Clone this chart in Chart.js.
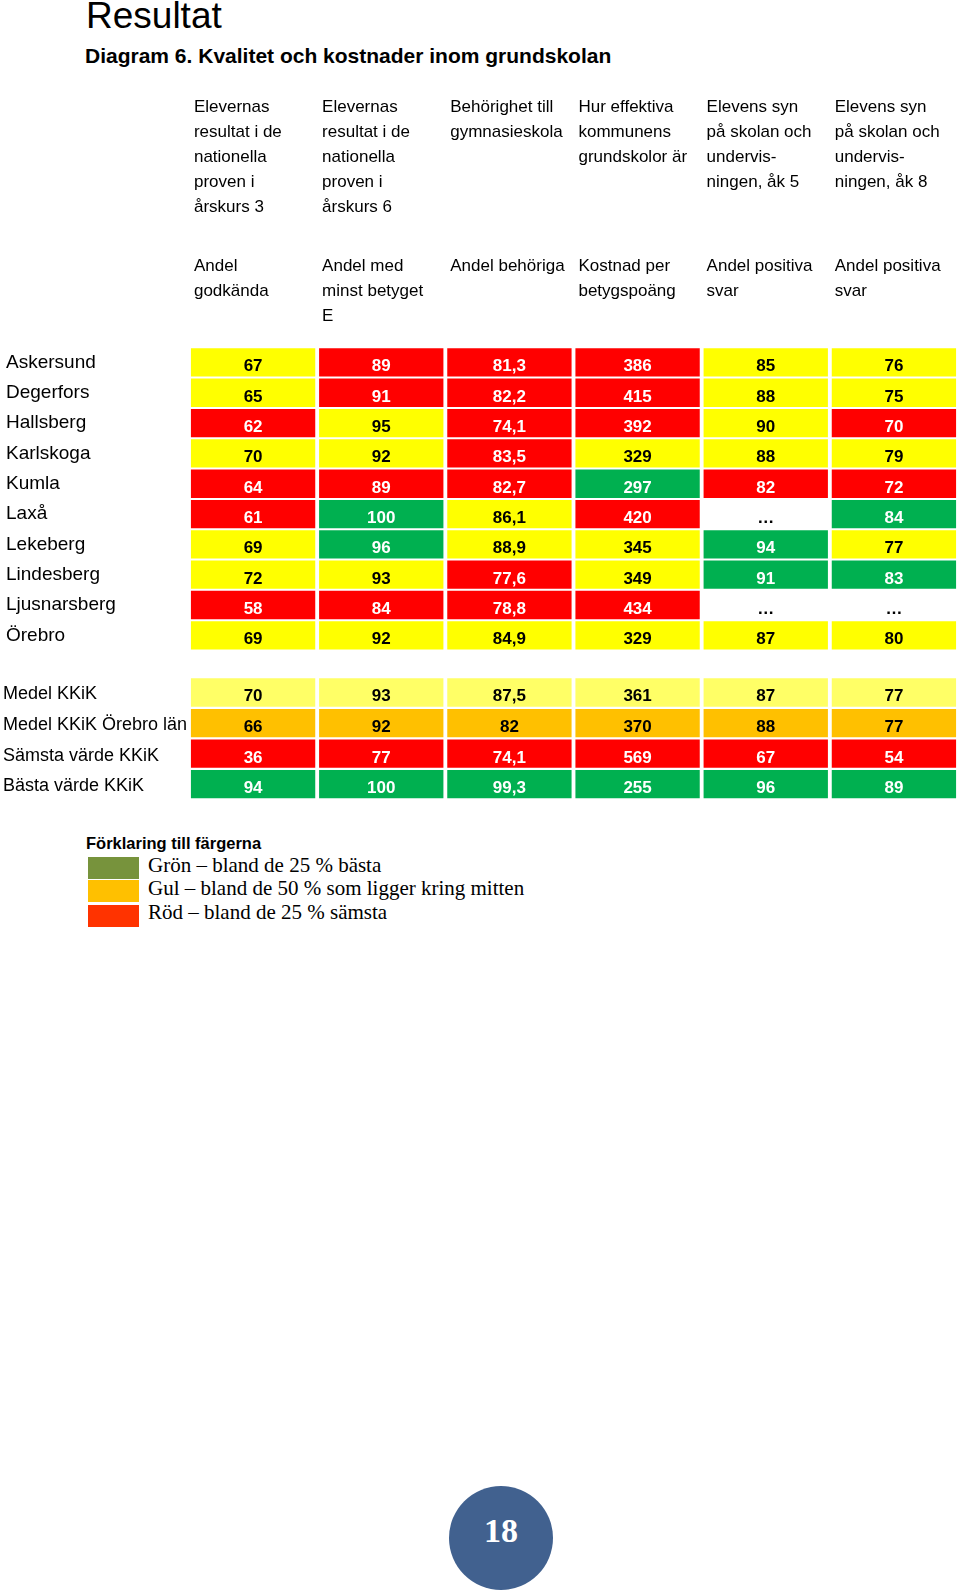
<!DOCTYPE html>
<html lang="sv">
<head>
<meta charset="utf-8">
<title>Diagram 6. Kvalitet och kostnader inom grundskolan</title>
<script src="https://cdn.jsdelivr.net/npm/chart.js@4"></script>
<style>
body { margin: 0; width: 960px; height: 1593px; position: relative; overflow: hidden; background: #fff; font-family: "Liberation Sans", Arial, sans-serif; color: #000; }
.abs { position: absolute; white-space: nowrap; line-height: 1; }
#rubrik { left: 86px; top: -3px; font-size: 37px; }
#diagram { left: 85px; top: 45px; font-size: 21px; font-weight: bold; }
#tabell1 { position: absolute; left: 0; top: 85px; }
#tabell2 { position: absolute; left: 0; top: 660px; }
#forklaring { left: 86px; top: 835px; font-size: 16.5px; font-weight: bold; }
.ruta { position: absolute; left: 88px; width: 51px; height: 22px; }
.serif { font-family: "Liberation Serif", "Times New Roman", serif; font-size: 21px; left: 148px; }
#sida { position: absolute; left: 449px; top: 1486px; width: 104px; height: 104px; border-radius: 50%; background: #41618f; box-sizing: border-box; padding-bottom: 14px;
  color: #fff; font: bold 34px "Liberation Serif", serif; display: flex; align-items: center; justify-content: center; }
</style>
</head>
<body>
<div class="abs" id="rubrik">Resultat</div>
<div class="abs" id="diagram">Diagram 6. Kvalitet och kostnader inom grundskolan</div>

<canvas id="tabell1" width="960" height="578"></canvas>
<canvas id="tabell2" width="960" height="152"></canvas>

<div class="abs" id="forklaring">Förklaring till färgerna</div>
<div class="ruta" style="top:857px;background:#77933c"></div>
<div class="ruta" style="top:880px;background:#ffc000"></div>
<div class="ruta" style="top:905px;background:#ff3300"></div>
<div class="abs serif" style="top:855px">Grön – bland de 25 % bästa</div>
<div class="abs serif" style="top:878px">Gul – bland de 50 % som ligger kring mitten</div>
<div class="abs serif" style="top:902px">Röd – bland de 25 % sämsta</div>

<div id="sida">18</div>

<script>
// rader
const kommuner = ['Askersund', 'Degerfors', 'Hallsberg', 'Karlskoga', 'Kumla', 'Laxå', 'Lekeberg', 'Lindesberg', 'Ljusnarsberg', 'Örebro'];
const jamforelse = ['Medel KKiK', 'Medel KKiK Örebro län', 'Sämsta värde KKiK', 'Bästa värde KKiK'];

// kolumnrubriker
const rubriker = [
  ['Elevernas', 'resultat i de', 'nationella', 'proven i', 'årskurs 3'],
  ['Elevernas', 'resultat i de', 'nationella', 'proven i', 'årskurs 6'],
  ['Behörighet till', 'gymnasieskola'],
  ['Hur effektiva', 'kommunens', 'grundskolor är'],
  ['Elevens syn', 'på skolan och', 'undervis-', 'ningen, åk 5'],
  ['Elevens syn', 'på skolan och', 'undervis-', 'ningen, åk 8']
];
const matt = [
  ['Andel', 'godkända'],
  ['Andel med', 'minst betyget', 'E'],
  ['Andel behöriga'],
  ['Kostnad per', 'betygspoäng'],
  ['Andel positiva', 'svar'],
  ['Andel positiva', 'svar']
];

// värden: 10 kommuner, sedan de 4 jämförelseraderna (null = uppgift saknas)
const resultatAk3 = [67, 65, 62, 70, 64, 61, 69, 72, 58, 69, 70, 66, 36, 94];
const resultatAk6 = [89, 91, 95, 92, 89, 100, 96, 93, 84, 92, 93, 92, 77, 100];
const behoriga = [81.3, 82.2, 74.1, 83.5, 82.7, 86.1, 88.9, 77.6, 78.8, 84.9, 87.5, 82, 74.1, 99.3];
const kostnad = [386, 415, 392, 329, 297, 420, 345, 349, 434, 329, 361, 370, 569, 255];
const synAk5 = [85, 88, 90, 88, 82, null, 94, 91, null, 87, 87, 88, 67, 96];
const synAk8 = [76, 75, 70, 79, 72, 84, 77, 83, null, 80, 77, 77, 54, 89];

// färgklass per cell: G grön, Y gul, R röd, L ljusgul, O orange, - ingen
const fargAk3 = 'YYRYRRYYRYLORG';
const fargAk6 = 'RRYYRGGYRYLORG';
const fargBehoriga = 'RRRRRYYRRYLORG';
const fargKostnad = 'RRRYGRYYRYLORG';
const fargSyn5 = 'YYYYR-GG-YLORG';
const fargSyn8 = 'YYRYRGYG-YLORG';

const kolumner = [resultatAk3, resultatAk6, behoriga, kostnad, synAk5, synAk8];
const klasser = [fargAk3, fargAk6, fargBehoriga, fargKostnad, fargSyn5, fargSyn8];

const farg = { Y: '#ffff00', R: '#ff0000', G: '#00b050', L: '#ffff66', O: '#ffc000', '-': '#ffffff' };
const vitText = 'RG';
const typsnitt = '"Liberation Sans", Arial, sans-serif';

// siffrorna i rutorna
const talPlugin = {
  id: 'tal',
  afterDatasetsDraw(chart, args, opts) {
    const ctx = chart.ctx;
    ctx.save();
    ctx.font = 'bold 17px ' + typsnitt;
    ctx.textAlign = 'center';
    ctx.textBaseline = 'alphabetic';
    chart.data.datasets.forEach((ds, i) => {
      const rad = opts.start + i;
      chart.getDatasetMeta(i).data.forEach((bar, j) => {
        const v = kolumner[j][rad];
        const p = bar.getCenterPoint();
        ctx.fillStyle = vitText.includes(klasser[j][rad]) ? '#fff' : '#000';
        ctx.fillText(v == null ? '…' : v.toLocaleString('sv-SE'), p.x, p.y + 9);
      });
    });
    ctx.restore();
  }
};

// rubrikerna ovanför kolumnerna
const rubrikPlugin = {
  id: 'rubriker',
  afterDraw(chart) {
    const ctx = chart.ctx;
    const top = chart.chartArea.top;
    ctx.save();
    ctx.font = '17px ' + typsnitt;
    ctx.fillStyle = '#000';
    ctx.textAlign = 'left';
    chart.getDatasetMeta(0).data.forEach((bar, j) => {
      const x = bar.x - bar.width / 2 + 3;
      rubriker[j].forEach((t, k) => ctx.fillText(t, x, top - 235.6 + 25 * k));
      matt[j].forEach((t, k) => ctx.fillText(t, x, top - 76.6 + 25 * k));
    });
    ctx.restore();
  }
};

function tabell(id, namn, start, opt) {
  const h = opt.halv;
  new Chart(document.getElementById(id), {
    type: 'bar',
    data: {
      labels: kolumner.map((_, j) => 'k' + j),
      datasets: namn.map((n, i) => ({
        label: n,
        data: kolumner.map(() => [i - h, i + h]),
        backgroundColor: klasser.map(k => farg[k[start + i]]),
        grouped: false,
        barPercentage: 0.97,
        categoryPercentage: 1,
        borderWidth: 0
      }))
    },
    options: {
      responsive: false,
      animation: false,
      layout: { padding: opt.padding },
      plugins: { legend: { display: false }, tooltip: { enabled: false }, tal: { start: start } },
      scales: {
        x: { display: false },
        y: {
          reverse: true,
          min: -0.5,
          max: namn.length - 0.5,
          grid: { display: false },
          border: { display: false },
          afterBuildTicks: s => { s.ticks = namn.map((_, i) => ({ value: i })); },
          afterFit: s => { s.width = opt.axelBredd; },
          ticks: {
            autoSkip: false,
            crossAlign: 'far',
            padding: 0,
            color: '#000',
            labelOffset: opt.forskjutning,
            font: { family: typsnitt, size: opt.storlek },
            callback: v => namn[v] ?? ''
          }
        }
      }
    },
    plugins: opt.rubriker ? [talPlugin, rubrikPlugin] : [talPlugin]
  });
}

tabell('tabell1', kommuner, 0, {
  halv: 0.467, padding: { top: 262.3, bottom: 12.5, left: 6, right: 2 },
  axelBredd: 183, storlek: 19, forskjutning: 0, rubriker: true
});
tabell('tabell2', jamforelse, kommuner.length, {
  halv: 0.463, padding: { top: 17.2, bottom: 12.5, left: 3, right: 2 },
  axelBredd: 186, storlek: 18, forskjutning: 2, rubriker: false
});
</script>
</body>
</html>
